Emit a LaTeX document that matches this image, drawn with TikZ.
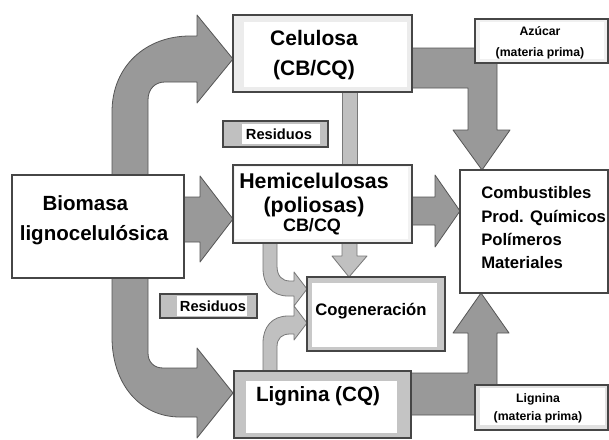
\documentclass[tikz,border=0pt]{standalone}
\usepackage{fontspec}
\setmainfont{Liberation Sans}
\usepackage[dvipsnames]{xcolor}

\begin{document}
\begin{tikzpicture}[x=0.75pt,y=0.75pt,yscale=-1,xscale=1,
    bigarrow/.style={fill={rgb, 255:red, 153; green, 153; blue, 153}, draw={rgb, 255:red, 85; green, 85; blue, 85}, line width=0.6pt, line join=round},
    smallarrow/.style={fill={rgb, 255:red, 192; green, 192; blue, 192}, draw={rgb, 255:red, 120; green, 120; blue, 120}, line width=0.6pt, line join=round},
    boxframe/.style={draw={rgb, 255:red, 70; green, 70; blue, 70}, line width=0.8pt},
    lbl/.style={inner sep=0.75pt, align=center}]
\useasboundingbox (0,0) rectangle (609,439);
\fill[white] (0,0) rectangle (609,439);

% big arrows out of the biomass box
\draw[bigarrow] (112,180) -- (112,112) .. controls (112,66) and (146,36) .. (190,36) -- (197,36) -- (197,15) -- (233,59) -- (197,103) -- (197,82) -- (165,82) .. controls (155,82) and (148,89) .. (148,100) -- (148,180) -- cycle ;
\draw[bigarrow] (180,197) -- (200,197) -- (200,176) -- (233,219) -- (200,262) -- (200,242) -- (180,242) -- cycle ;
\draw[bigarrow] (112,275) -- (112,337) .. controls (112,384) and (140,417) .. (180,417) -- (197,417) -- (197,438) -- (233,393) -- (197,348) -- (197,368) -- (163,368) .. controls (154,368) and (148,362) .. (148,353) -- (148,275) -- cycle ;
% big arrows into the products box
\draw[bigarrow] (410,48) -- (497,48) -- (497,130) -- (510,130) -- (482,170) -- (453,130) -- (468,130) -- (468,88) -- (410,88) -- cycle ;
\draw[bigarrow] (410,197) -- (435,197) -- (435,175) -- (460,211) -- (435,247) -- (435,225) -- (410,225) -- cycle ;
\draw[bigarrow] (409,415) -- (497,415) -- (497,333) -- (509,333) -- (481,293) -- (453,333) -- (468,333) -- (468,373) -- (409,373) -- cycle ;

% small arrows
\draw[smallarrow] (342,90) rectangle (357,167) ;
\draw[smallarrow] (342,241) -- (342,256) -- (332,256) -- (349,277) -- (367,256) -- (357,256) -- (357,241) -- cycle ;
\draw[smallarrow] (263,241) -- (263,268) .. controls (263,285) and (272,296) .. (288,296) -- (294,296) -- (294,306) -- (307,289) -- (294,272) -- (294,281) -- (290,281) .. controls (282,281) and (277,276) .. (277,266) -- (277,241) -- cycle ;
\draw[smallarrow] (263,373) -- (263,343) .. controls (263,327) and (272,316) .. (288,316) -- (294,316) -- (294,306) -- (307,323) -- (294,340) -- (294,334) -- (290,334) .. controls (282,334) and (277,338) .. (277,347) -- (277,373) -- cycle ;

% boxes
\draw[boxframe, fill={rgb, 255:red, 236; green, 236; blue, 236}] (233,15) rectangle (412,92) ;
\fill[white] (244,22) rectangle (407,87) ;
\draw[boxframe, fill={rgb, 255:red, 240; green, 240; blue, 240}] (475,19) rectangle (608,63) ;
\fill[white] (480,22) rectangle (604,59) ;
\draw[boxframe, fill={rgb, 255:red, 192; green, 192; blue, 192}] (223,121) rectangle (328,147) ;
\fill[white] (242,124) rectangle (320,144) ;
\draw[boxframe, fill={rgb, 255:red, 242; green, 242; blue, 242}] (233,165) rectangle (412,243) ;
\fill[white] (235,167) rectangle (408,239) ;
\draw[boxframe, fill=white] (12,175) rectangle (184,278) ;
\draw[boxframe, fill=white] (460,170) rectangle (608,293) ;
\draw[boxframe, fill={rgb, 255:red, 200; green, 200; blue, 200}] (307,277) rectangle (445,351) ;
\fill[white] (312,283) rectangle (437,347) ;
\draw[boxframe, fill={rgb, 255:red, 192; green, 192; blue, 192}] (160,294) rectangle (257,318) ;
\fill[white] (177,296) rectangle (247,316) ;
\draw[boxframe, fill={rgb, 255:red, 196; green, 196; blue, 196}] (234,371) rectangle (411,438) ;
\fill[white] (246,381) rectangle (397,433) ;
\draw[boxframe, fill={rgb, 255:red, 225; green, 225; blue, 225}] (475,385) rectangle (608,430) ;
\fill[white] (480,388) rectangle (605,425) ;

% texts
\draw (314,55) node (cel) [lbl, font=\fontsize{15.75}{22.5}\selectfont\bfseries] {Celulosa\\(CB/CQ)};
\draw (540,43) node (azu) [lbl, font=\fontsize{9.2}{15.5}\selectfont\bfseries] {Azúcar\\(materia prima)};
\draw (279,134) node (resa) [lbl, font=\fontsize{11}{13}\selectfont\bfseries] {Residuos};
\draw (314,195) node (hemi) [lbl, font=\fontsize{16}{18}\selectfont\bfseries] {Hemicelulosas\\(poliosas)};
\draw (312,227) node (hemicb) [lbl, font=\fontsize{13.5}{15}\selectfont\bfseries] {CB/CQ};
\draw (94,220) node (bio) [lbl, font=\fontsize{15.4}{22.5}\selectfont\bfseries] {Biomasa\hspace*{13pt}\\lignocelulósica};
\draw (480,228) node (comb) [lbl, anchor=west, align=left, font=\fontsize{12.5}{17.5}\selectfont\bfseries] {Combustibles\\Prod. Químicos\\Polímeros\\Materiales};
\draw (371,311) node (cog) [lbl, font=\fontsize{12.5}{15}\selectfont\bfseries] {Cogeneración};
\draw (213,306) node (resb) [lbl, font=\fontsize{11}{13}\selectfont\bfseries] {Residuos};
\draw (318,396) node (lig) [lbl, font=\fontsize{15.5}{18}\selectfont\bfseries] {Lignina (CQ)};
\draw (538,408) node (ligmp) [lbl, font=\fontsize{9.2}{13.5}\selectfont\bfseries] {Lignina\\(materia prima)};
\end{tikzpicture}
\end{document}
